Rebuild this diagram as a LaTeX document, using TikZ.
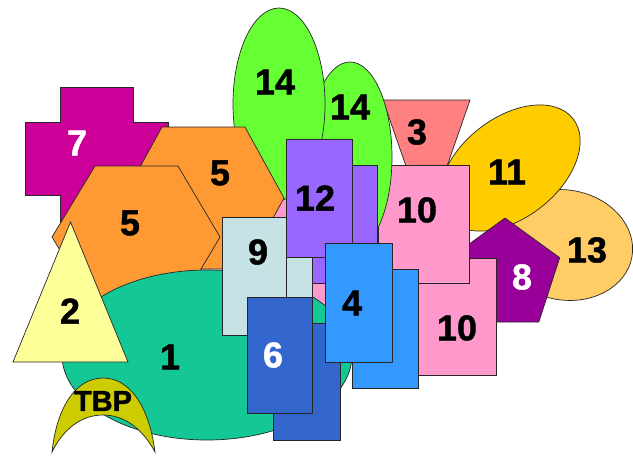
\documentclass[tikz,border=0pt]{standalone}
\usepackage{fontspec}
\setmainfont{Liberation Sans}
\newfontfamily\lblfont[FakeBold=1.2]{Liberation Sans Bold}
\definecolor{cA}{RGB}{20,200,150}
\definecolor{cB}{RGB}{255,255,153}
\definecolor{cC}{RGB}{255,128,128}
\definecolor{cD}{RGB}{51,153,255}
\definecolor{cE}{RGB}{255,153,51}
\definecolor{cF}{RGB}{51,102,204}
\definecolor{cG}{RGB}{204,0,153}
\definecolor{cH}{RGB}{153,0,153}
\definecolor{cI}{RGB}{198,226,228}
\definecolor{cJ}{RGB}{255,153,204}
\definecolor{cK}{RGB}{255,204,0}
\definecolor{cL}{RGB}{153,102,255}
\definecolor{cM}{RGB}{255,204,102}
\definecolor{cN}{RGB}{102,255,51}
\definecolor{cT}{RGB}{204,204,0}
\begin{document}
\begin{tikzpicture}[x=1pt,y=-1pt,
  shp/.style={draw=black!85, line width=0.7pt, line join=miter},
  lbl/.style={font=\lblfont\fontsize{36}{36}\selectfont, inner sep=0pt, text=black},
  wlbl/.style={lbl, text=white}]
\useasboundingbox[fill=white] (0,0) rectangle (633,456);
% 7 cross
\draw[shp, fill=cG] (60,87) -- (133,87) -- (133,122) -- (168,122) -- (168,195) -- (133,195) -- (133,230) -- (60,230) -- (60,195) -- (25,195) -- (25,122) -- (60,122) -- cycle;
% 13 ellipse
\draw[shp, fill=cM, rotate around={-10:(565,245)}] (565,245) ellipse [x radius=68, y radius=55];
% 11 ellipse
\draw[shp, fill=cK, rotate around={38:(510,168)}] (510,168) ellipse [x radius=80, y radius=50];
% 3 trapezoid
\draw[shp, fill=cC] (383,100) -- (470,100) -- (437,195) -- (416,195) -- cycle;
% 8 pentagon
\draw[shp, fill=cH] (505,218) -- (559.7,257.7) -- (538.8,322) -- (471.2,322) -- (450.3,257.7) -- cycle;
% 10 lower
\draw[shp, fill=cJ] (417,258) rectangle (496,375);
% pink behind
\draw[shp, fill=cJ] (262,193) rectangle (378,315);
% 10 upper
\draw[shp, fill=cJ] (378,165) rectangle (469,283);
% 14 ellipses
\draw[shp, fill=cN] (350,157) ellipse [x radius=42, y radius=95];
\draw[shp, fill=cN] (279,104) ellipse [x radius=46, y radius=96];
% 5 hexagons
\draw[shp, fill=cE] (162,127) -- (245,127) -- (284,198) -- (245,269) -- (162,269) -- (123,198) -- cycle;
\draw[shp, fill=cE] (95,166) -- (178,166) -- (220,237) -- (178,308) -- (95,308) -- (52,237) -- cycle;
% 1 ellipse
\draw[shp, fill=cA] (207,355) ellipse [x radius=145, y radius=85];
% 2 triangle
\draw[shp, fill=cB] (70.5,222) -- (128,362) -- (13,362) -- cycle;
% TBP moon
\draw[shp, fill=cT] (52,452) .. controls (57,405) and (77,378) .. (103,378)
  .. controls (129,378) and (149,405) .. (155,452)
  .. controls (142,428) and (124,415) .. (103,415)
  .. controls (82,415) and (64,428) .. (52,452) -- cycle;
% 9 cards
\draw[shp, fill=cI] (248,244) rectangle (312,362);
\draw[shp, fill=cI] (222,217) rectangle (286,335);
% 12 cards
\draw[shp, fill=cL] (312,165) rectangle (377,283);
\draw[shp, fill=cL] (286,139) rectangle (352,257);
% 6 cards
\draw[shp, fill=cF] (273,323) rectangle (340,440);
\draw[shp, fill=cF] (247,297) rectangle (312,413);
% 4 cards
\draw[shp, fill=cD] (352,269) rectangle (418,388);
\draw[shp, fill=cD] (325,243) rectangle (392,362);
% labels
\node[wlbl] (t7) at (77,143) {7};
\node[lbl] (t5a) at (220,173) {5};
\node[lbl] (t5b) at (130,223) {5};
\node[lbl] (t2) at (70,311) {2};
\node[lbl] (t1) at (170,357) {1};
\node[lbl, font=\lblfont\fontsize{29}{29}\selectfont] (tT) at (103,401) {TBP};
\node[lbl] (t14a) at (275,82) {14};
\node[lbl] (t14b) at (350,107) {14};
\node[lbl] (t3) at (417,132) {3};
\node[lbl] (t11) at (507,172) {11};
\node[lbl] (t13) at (587,250) {13};
\node[wlbl] (t8) at (522,277) {8};
\node[lbl] (t10a) at (417,210) {10};
\node[lbl] (t10b) at (457,328) {10};
\node[lbl] (t12) at (315,198) {12};
\node[lbl] (t9) at (258,252) {9};
\node[lbl] (t4) at (352,303) {4};
\node[wlbl] (t6) at (273,355) {6};
\end{tikzpicture}
\end{document}
